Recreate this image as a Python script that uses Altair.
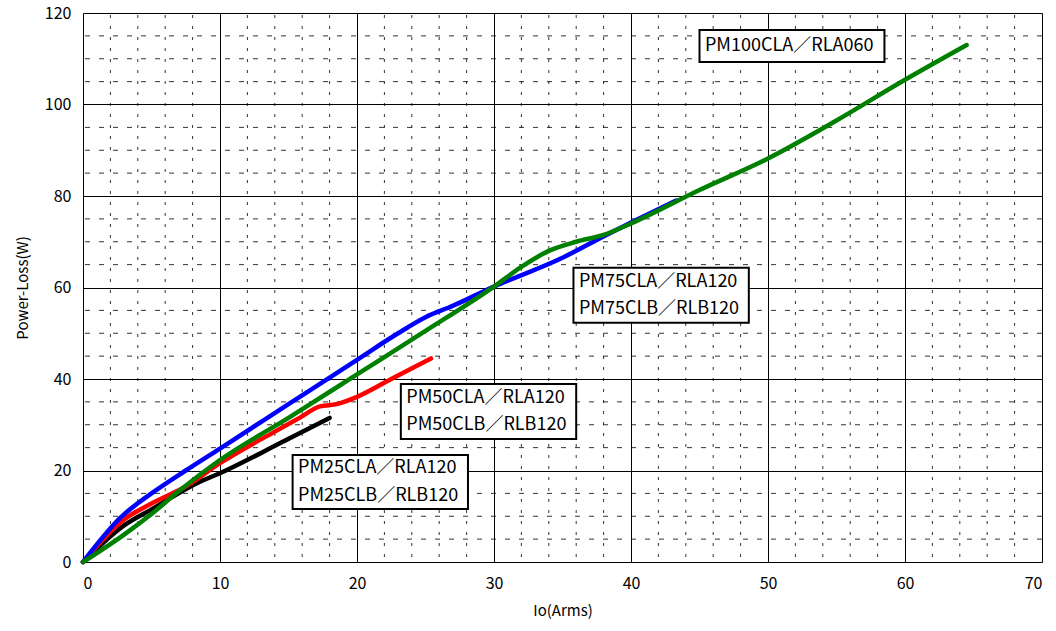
import altair as alt
import pandas as pd

# ---- data ----
black_x = [0, 3, 5, 8.5, 10, 14.4, 18]
black_y = [0, 8, 11.5, 17.5, 19.4, 26, 31.5]

red_x = [0, 3, 5, 7.5, 10, 14, 15.8, 17.3, 18.5, 20, 22.5, 25.4]
red_y = [0, 9.3, 12.8, 16.5, 21.6, 28.5, 31.5, 34, 34.5, 36.1, 40, 44.5]

blue_x = [0, 2.7, 5, 7.5, 10, 15, 20, 23, 25, 27, 30, 35, 38.2, 40, 43.3]
blue_y = [0, 9.6, 15, 20, 24.8, 34.5, 44.2, 50, 53.5, 56, 60.2, 66.5, 71.5, 74.2, 79]

green_x = [0, 3, 5, 7, 10, 15, 20, 25, 30, 32, 34, 36, 38, 40, 45, 50, 55, 60, 64.5]
green_y = [0, 6, 10.5, 15.5, 22.3, 31.5, 41, 50.5, 60.2, 64.5, 68, 70, 71.5, 74, 81.3, 88.2, 96.5, 105.4, 113]

series_names = ["PM25", "PM50", "PM75", "PM100"]
series_colors = ["#000000", "#FF0000", "#0000FF", "#008000"]

x_major = [0, 10, 20, 30, 40, 50, 60, 70]
y_major = [0, 20, 40, 60, 80, 100, 120]
x_minor = [v for v in range(0, 71, 2) if v % 10 != 0]
y_minor = [v for v in range(0, 121, 5) if v % 20 != 0]

label_lines = [
    ["PM100CLA／RLA060"],
    ["PM75CLA／RLA120", "PM75CLB／RLB120"],
    ["PM50CLA／RLA120", "PM50CLB／RLB120"],
    ["PM25CLA／RLA120", "PM25CLB／RLB120"],
]
box_x1 = [45.0, 35.8, 23.2, 15.3]
box_x2 = [58.5, 48.6, 36.0, 28.1]
box_y1 = [116.3, 64.3, 38.9, 23.4]
box_y2 = [109.3, 52.3, 26.9, 11.6]

# ---- tables ----
rows = []
for name, xs, ys in zip(series_names, [black_x, red_x, blue_x, green_x],
                        [black_y, red_y, blue_y, green_y]):
    for i, (a, b) in enumerate(zip(xs, ys)):
        rows.append({"series": name, "x": a, "y": b, "i": i})
df = pd.DataFrame(rows)

boxes = pd.DataFrame({"x1": box_x1, "x2": box_x2, "y1": box_y1, "y2": box_y2})
text_rows = []
for k, lines in enumerate(label_lines):
    n = len(lines)
    cy = (box_y1[k] + box_y2[k]) / 2
    for j, t in enumerate(lines):
        text_rows.append({"x": box_x1[k] + 0.4, "y": cy + (n - 1) * 3.0 - j * 6.0, "t": t})
texts = pd.DataFrame(text_rows)

FONT = "Noto Sans CJK JP"
xs = alt.Scale(domain=[0, 70], nice=False, zero=False)
ys = alt.Scale(domain=[0, 120], nice=False, zero=False)

xaxis = alt.Axis(values=x_major, grid=True, gridColor="#000000", gridWidth=1,
                 ticks=False, domain=False, labelFont=FONT, labelFontSize=16,
                 labelColor="#000000", labelPadding=13, title="Io(Arms)",
                 titleFont=FONT, titleFontSize=15, titleFontWeight="normal",
                 titleColor="#000000", titlePadding=12)
yaxis = alt.Axis(values=y_major, grid=True, gridColor="#000000", gridWidth=1,
                 ticks=False, domain=False, labelFont=FONT, labelFontSize=16,
                 labelColor="#000000", labelPadding=12, title="Power-Loss(W)",
                 titleFont=FONT, titleFontSize=15, titleFontWeight="normal",
                 titleColor="#000000", titlePadding=14)

vminor = alt.Chart(pd.DataFrame({"x": x_minor})).mark_rule(
    color="#000000", strokeWidth=1, strokeDash=[3, 8], strokeDashOffset=-2, opacity=0.8
).encode(x=alt.X("x:Q", scale=xs, axis=xaxis))

hminor = alt.Chart(pd.DataFrame({"y": y_minor})).mark_rule(
    color="#000000", strokeWidth=1, strokeDash=[5, 9], opacity=0.8
).encode(y=alt.Y("y:Q", scale=ys, axis=yaxis))

lines = alt.Chart(df).mark_line(strokeWidth=4.5, interpolate="monotone", strokeCap="round").encode(
    x=alt.X("x:Q", scale=xs),
    y=alt.Y("y:Q", scale=ys),
    color=alt.Color("series:N", scale=alt.Scale(domain=series_names, range=series_colors), legend=None),
    order="i:Q",
)

rects = alt.Chart(boxes).mark_rect(fill="white", stroke="black", strokeWidth=2).encode(
    x=alt.X("x1:Q", scale=xs), x2="x2:Q",
    y=alt.Y("y1:Q", scale=ys), y2="y2:Q",
)

labels = alt.Chart(texts).mark_text(align="left", baseline="middle", font=FONT,
                                    fontSize=18, color="#000000").encode(
    x=alt.X("x:Q", scale=xs), y=alt.Y("y:Q", scale=ys), text="t:N"
)

chart = alt.layer(vminor, hminor, lines, rects, labels).properties(
    width=959, height=549,
    autosize=alt.AutoSizeParams(type="none"),
    padding={"left": 83, "top": 13, "right": 14, "bottom": 69},
).configure_view(stroke="#000000", strokeWidth=3).configure(background="white")

chart.save("out.html", embed_options={"renderer": "svg", "actions": False})
